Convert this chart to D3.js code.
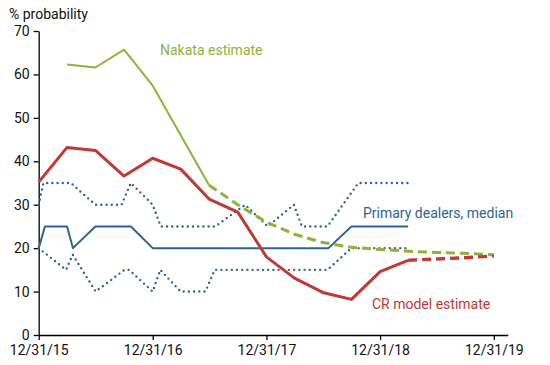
<!DOCTYPE html>
<html>
<head>
<meta charset="utf-8">
<script src="https://cdn.jsdelivr.net/npm/d3@7"></script>
<style>
  html, body { margin: 0; padding: 0; background: #fff; }
  svg { display: block; font-family: Roboto, "Noto Sans", sans-serif; }
</style>
</head>
<body>
<svg id="chart" width="550" height="365"></svg>
<script>
// ---------- data ----------
const crDates = ["2015-12-31","2016-03-31","2016-06-30","2016-09-30","2016-12-31","2017-03-31","2017-06-30","2017-09-30","2017-12-31","2018-03-31","2018-06-30","2018-09-30","2018-12-31","2019-03-31"];
const crValues = [35.2,43.2,42.5,36.6,40.7,38.2,31.3,28.3,18.0,13.1,9.8,8.2,14.6,17.2];
const crProjDates = ["2019-03-31","2019-06-30","2019-09-30","2019-12-31"];
const crProjValues = [17.2,17.5,17.8,18.2];

const nakataDates = ["2016-03-31","2016-06-30","2016-09-30","2016-12-31","2017-03-31","2017-06-30"];
const nakataValues = [62.3,61.6,65.7,57.4,46.0,34.5];
const nakataProjDates = ["2017-06-30","2017-09-30","2017-12-31","2018-03-31","2018-06-30","2018-09-30","2018-12-31","2019-03-31","2019-06-30","2019-09-30","2019-12-31"];
const nakataProjValues = [34.5,30.0,26.0,23.2,21.3,20.2,19.7,19.3,19.0,18.8,18.5];

const medianDates = ["2015-12-31","2016-01-20","2016-03-31","2016-04-19","2016-06-30","2016-10-22","2016-12-31","2018-07-18","2018-09-30","2019-03-31"];
const medianValues = [20,25,25,20,25,25,20,20,25,25];

const lowerDates = ["2015-12-31","2016-03-28","2016-04-18","2016-07-01","2016-10-01","2016-10-16","2016-12-31","2017-01-24","2017-03-31","2017-06-18","2017-07-18","2018-07-15","2018-09-30","2019-03-31"];
const lowerValues = [20,15,18.5,10,15,15,10,15,10,10,15,15,20,20];

const upperDates = ["2015-12-31","2016-01-15","2016-04-12","2016-06-30","2016-09-22","2016-10-22","2016-12-31","2017-01-26","2017-07-20","2017-10-24","2018-01-04","2018-03-29","2018-04-24","2018-07-15","2018-10-22","2019-03-31"];
const upperValues = [30,35,35,30,30,35,30,25,25,30,25,30,25,25,35,35];

const xTickDates = ["2015-12-31","2016-12-31","2017-12-31","2018-12-31","2019-12-31"];
const yTicks = [0,10,20,30,40,50,60,70];

// ---------- drawing ----------
const parse = d3.timeParse("%Y-%m-%d");
const fmt = d3.timeFormat("%-m/%-d/%y");
const svg = d3.select("#chart");

const x0 = 38.7;
const xScale = d3.scaleTime()
  .domain([parse("2015-12-31"), parse("2020-02-14")])
  .range([x0, x0 + 0.3115 * 1506]);
const yScale = d3.scaleLinear().domain([0, 70]).range([335, 31]);

const GREEN = "#8db33a", RED = "#bf3a33", BLUE = "#2f6394";

function pts(dates, vals) { return dates.map((d, i) => ({ d: parse(d), v: vals[i] })); }
const line = d3.line().x(p => xScale(p.d)).y(p => yScale(p.v));

// axes
const yAxis = d3.axisLeft(yScale).tickValues(yTicks).tickSize(5).tickSizeOuter(0).tickFormat(d3.format("d"));
const gy = svg.append("g").attr("transform", `translate(${x0},0)`).call(yAxis);
gy.select(".domain").attr("stroke", "#000").attr("stroke-width", 1.3);
gy.selectAll(".tick line").attr("stroke", "#000").attr("stroke-width", 1.3);
gy.selectAll(".tick text").attr("font-size", 14).attr("fill", "#111").attr("x", -9).attr("font-family", "Roboto");

const xAxis = d3.axisBottom(xScale).tickValues(xTickDates.map(parse)).tickSize(5).tickSizeOuter(0).tickFormat(fmt);
const gx = svg.append("g").attr("transform", `translate(0,${yScale(0)})`).call(xAxis);
gx.select(".domain").attr("stroke", "#000").attr("stroke-width", 1.3);
gx.selectAll(".tick line").attr("stroke", "#000").attr("stroke-width", 1.3);
gx.selectAll(".tick text").attr("font-size", 14).attr("fill", "#111").attr("y", 10).attr("font-family", "Roboto");

// series
function draw(data, color, width, dash, cap) {
  svg.append("path").datum(data).attr("d", line)
    .attr("fill", "none").attr("stroke", color).attr("stroke-width", width)
    .attr("stroke-linejoin", "round").attr("stroke-linecap", cap || "butt")
    .attr("stroke-dasharray", dash || null);
}
draw(pts(upperDates, upperValues), BLUE, 2.4, "0,5.2", "round");
draw(pts(lowerDates, lowerValues), BLUE, 2.4, "0,5.2", "round");
draw(pts(medianDates, medianValues), BLUE, 2);
draw(pts(nakataDates, nakataValues), GREEN, 2);
draw(pts(nakataProjDates, nakataProjValues), GREEN, 3, "9,5");
draw(pts(crDates, crValues), RED, 3);
draw(pts(crProjDates, crProjValues), RED, 3.4, "9,5");

// labels
svg.append("text").attr("x", 9).attr("y", 19).attr("font-size", 14).attr("fill", "#111").text("% probability");
svg.append("text").attr("x", 160).attr("y", 55).attr("font-size", 14).attr("fill", GREEN).text("Nakata estimate");
svg.append("text").attr("x", 363).attr("y", 218).attr("font-size", 14).attr("fill", BLUE).text("Primary dealers, median");
svg.append("text").attr("x", 372).attr("y", 309).attr("font-size", 14).attr("fill", RED).text("CR model estimate");
</script>
</body>
</html>
